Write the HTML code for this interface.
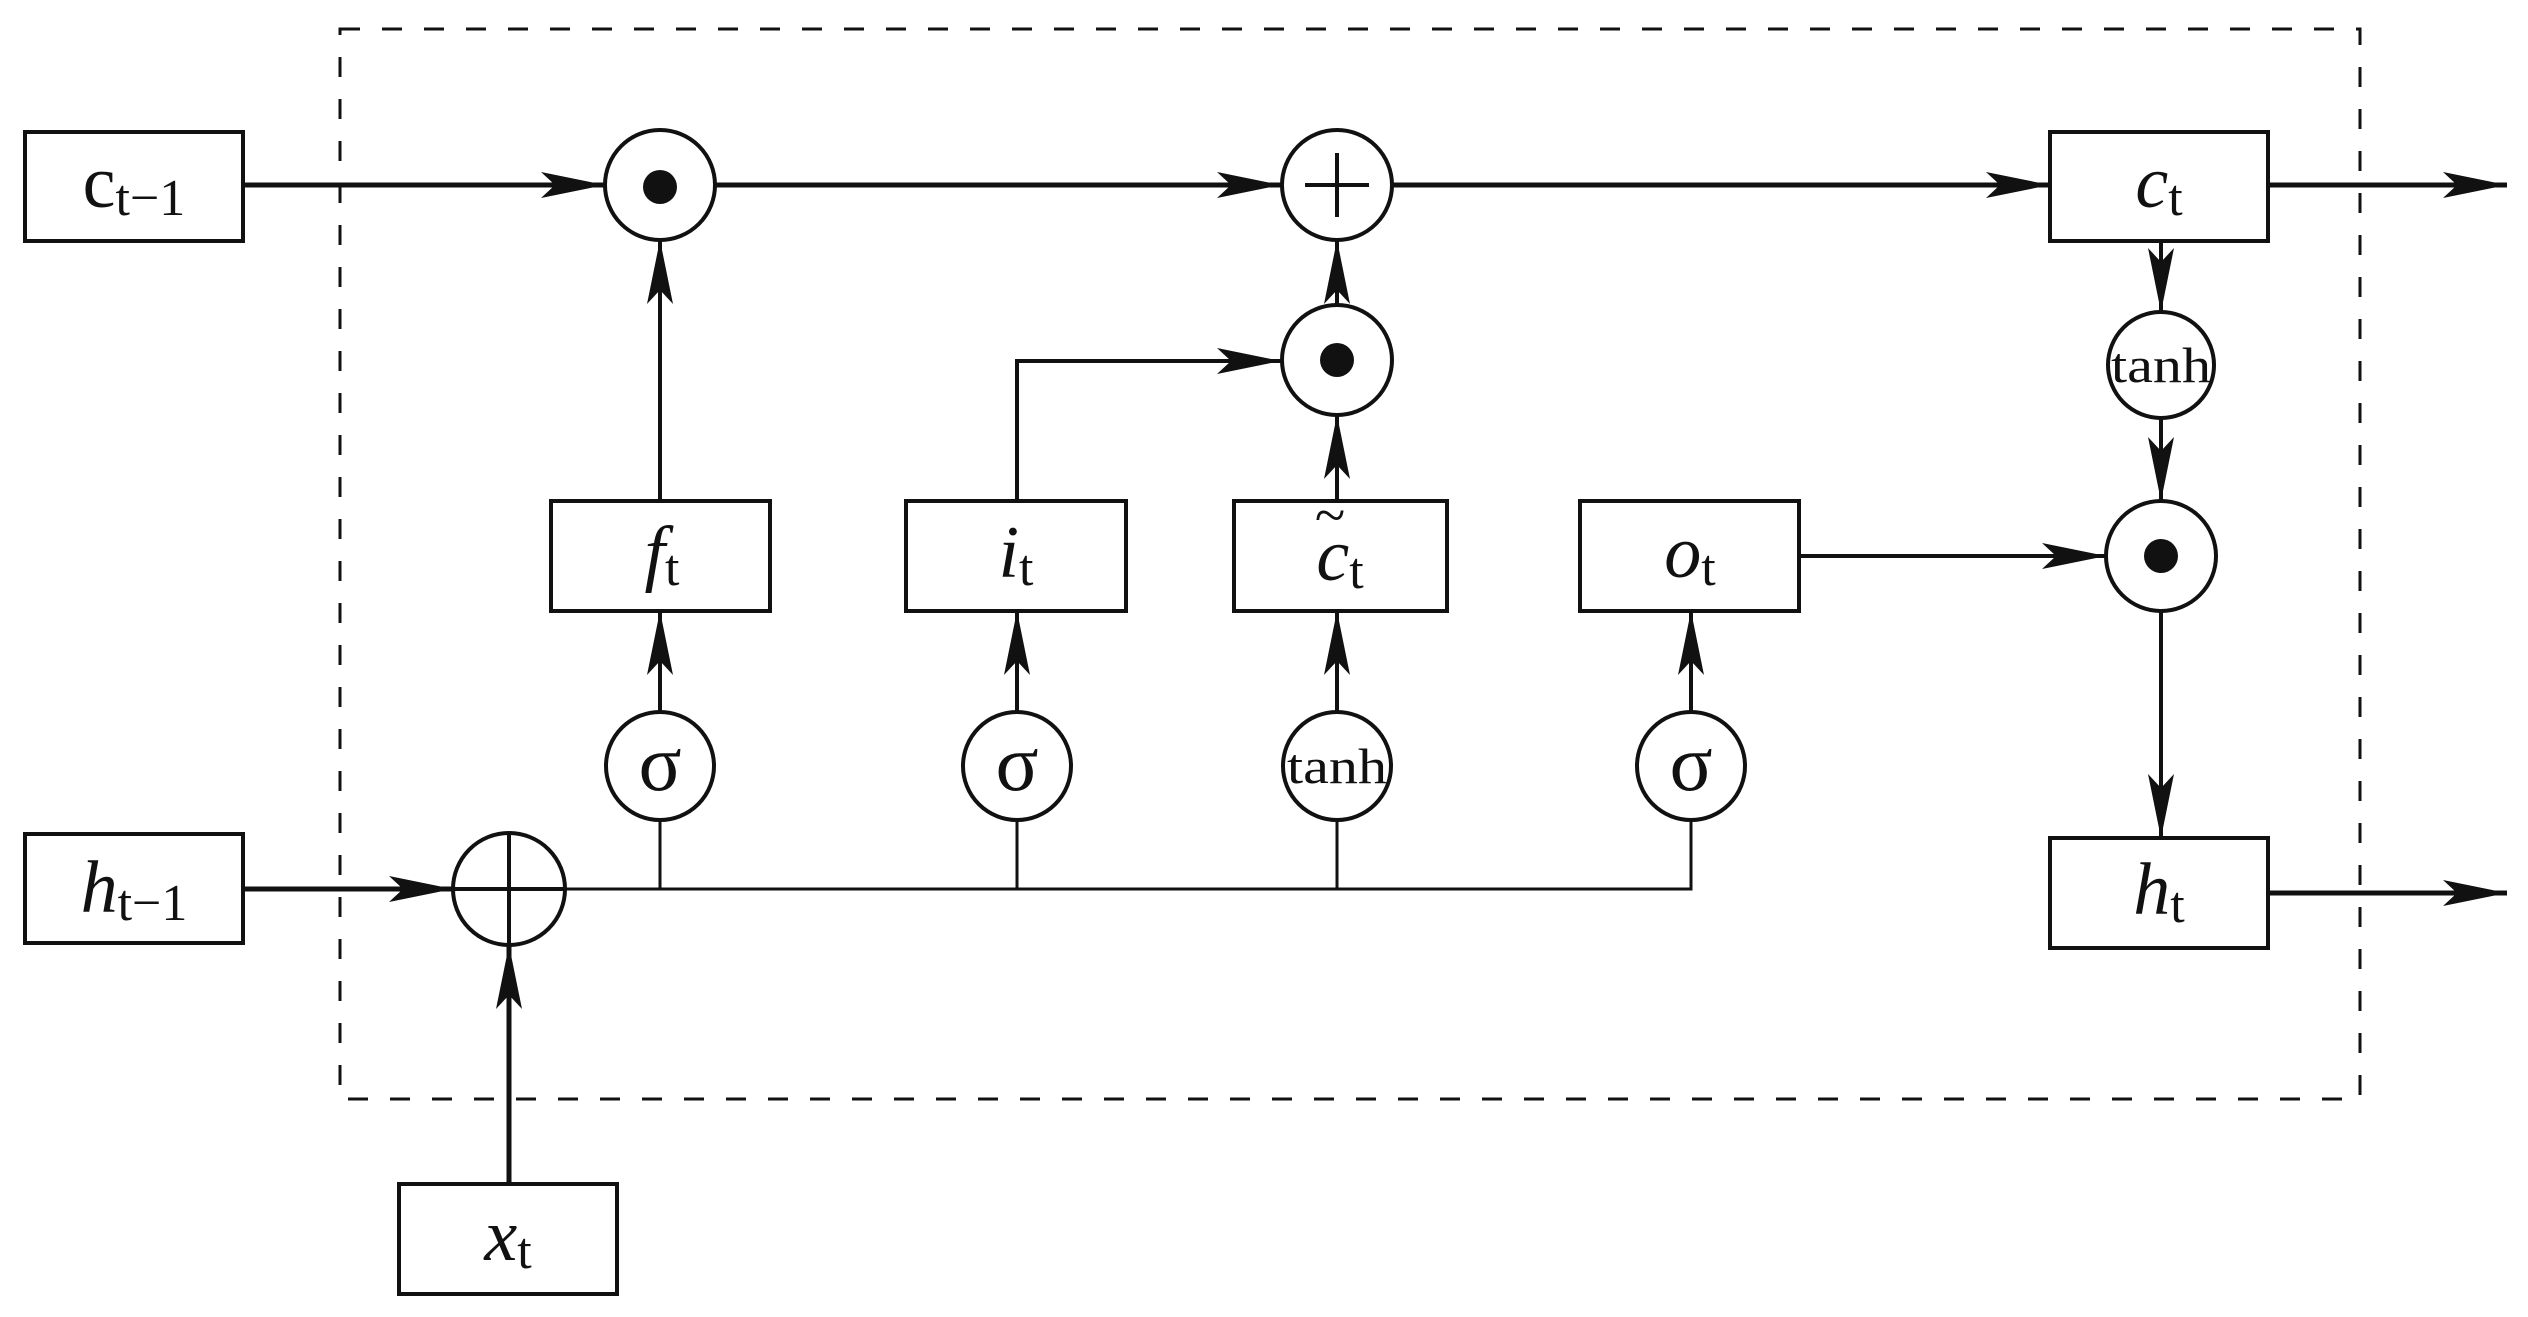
<!DOCTYPE html>
<html><head><meta charset="utf-8"><style>
html,body{margin:0;padding:0;background:#fff;width:2528px;height:1317px;overflow:hidden}
text{font-family:"Liberation Serif",serif;fill:#111}
</style></head><body>
<svg width="2528" height="1317" viewBox="0 0 2528 1317" xmlns="http://www.w3.org/2000/svg">
<defs>
<marker id="a" markerUnits="userSpaceOnUse" markerWidth="66" markerHeight="32" refX="64" refY="16" orient="auto">
<path d="M0,3 L64,16 L0,29 L14,16 Z" fill="#111"/>
</marker>
</defs>
<g stroke="#111" fill="none">
<rect x="340" y="29" width="2020" height="1070" stroke-width="3" stroke-dasharray="20,22"/>
<g stroke-width="4" fill="#fff">
<rect x="25" y="132" width="218" height="109"/>
<rect x="25" y="834" width="218" height="109"/>
<rect x="399" y="1184" width="218" height="110"/>
<rect x="551" y="501" width="219" height="110"/>
<rect x="906" y="501" width="220" height="110"/>
<rect x="1234" y="501" width="213" height="110"/>
<rect x="1580" y="501" width="219" height="110"/>
<rect x="2050" y="132" width="218" height="109"/>
<rect x="2050" y="838" width="218" height="110"/>
</g>
<g stroke-width="5">
<line x1="243" y1="185" x2="605" y2="185" marker-end="url(#a)"/>
<line x1="715" y1="185" x2="1281" y2="185" marker-end="url(#a)"/>
<line x1="1391" y1="185" x2="2050" y2="185" marker-end="url(#a)"/>
<line x1="2268" y1="185" x2="2507" y2="185" marker-end="url(#a)"/>
<line x1="2268" y1="893" x2="2507" y2="893" marker-end="url(#a)"/>
<line x1="243" y1="889" x2="453" y2="889" marker-end="url(#a)"/>
<line x1="509" y1="1184" x2="509" y2="945" marker-end="url(#a)"/>
</g>
<g stroke-width="4">
<line x1="660" y1="501" x2="660" y2="240" marker-end="url(#a)"/>
<polyline points="1017,501 1017,361 1281,361" marker-end="url(#a)"/>
<line x1="1337" y1="501" x2="1337" y2="415" marker-end="url(#a)"/>
<line x1="1337" y1="305" x2="1337" y2="240" marker-end="url(#a)"/>
<line x1="660" y1="711" x2="660" y2="611" marker-end="url(#a)"/>
<line x1="1017" y1="711" x2="1017" y2="611" marker-end="url(#a)"/>
<line x1="1337" y1="711" x2="1337" y2="611" marker-end="url(#a)"/>
<line x1="1691" y1="711" x2="1691" y2="611" marker-end="url(#a)"/>
<polyline points="565,889 1691,889 1691,821" stroke-width="3"/>
<line x1="660" y1="889" x2="660" y2="821" stroke-width="3"/>
<line x1="1017" y1="889" x2="1017" y2="821" stroke-width="3"/>
<line x1="1337" y1="889" x2="1337" y2="821" stroke-width="3"/>
<line x1="1799" y1="556" x2="2106" y2="556" marker-end="url(#a)"/>
<line x1="2161" y1="241" x2="2161" y2="312" marker-end="url(#a)"/>
<line x1="2161" y1="418" x2="2161" y2="501" marker-end="url(#a)"/>
<line x1="2161" y1="611" x2="2161" y2="838" marker-end="url(#a)"/>
</g>
<g stroke-width="4" fill="#fff">
<circle cx="660" cy="185" r="55"/>
<circle cx="1337" cy="185" r="55"/>
<circle cx="1337" cy="360" r="55"/>
<circle cx="2161" cy="556" r="55"/>
<circle cx="2161" cy="365" r="53"/>
<circle cx="660" cy="766" r="54"/>
<circle cx="1017" cy="766" r="54"/>
<circle cx="1337" cy="766" r="54"/>
<circle cx="1691" cy="766" r="54"/>
<circle cx="509" cy="889" r="56"/>
</g>
<g stroke-width="4">
<line x1="1305" y1="185" x2="1369" y2="185"/><line x1="1337" y1="153" x2="1337" y2="217"/>
<line x1="453" y1="889" x2="565" y2="889"/><line x1="509" y1="833" x2="509" y2="945"/>
</g>
</g>
<g fill="#111">
<circle cx="660" cy="187" r="17"/>
<circle cx="1337" cy="360" r="17"/>
<circle cx="2161" cy="556" r="17"/>
</g>
<g font-size="74" text-anchor="middle">
<text x="134" y="207">c<tspan font-size="52" dy="8">t−1</tspan></text>
<text x="134" y="912" font-style="italic">h<tspan font-size="52" dy="8" font-style="normal">t−1</tspan></text>
<text x="508" y="1260" font-style="italic">x<tspan font-size="52" dy="8" font-style="normal">t</tspan></text>
<text x="662" y="577" font-style="italic">f<tspan font-size="52" dy="8" font-style="normal">t</tspan></text>
<text x="1016" y="577" font-style="italic">i<tspan font-size="52" dy="8" font-style="normal">t</tspan></text>
<text x="1340" y="580" font-style="italic">c<tspan font-size="52" dy="8" font-style="normal">t</tspan></text>
<text x="1330" y="534" font-size="56">~</text>
<text x="1690" y="577" font-style="italic">o<tspan font-size="52" dy="8" font-style="normal">t</tspan></text>
<text x="2159" y="207" font-style="italic">c<tspan font-size="52" dy="8" font-style="normal">t</tspan></text>
<text x="2159" y="914" font-style="italic">h<tspan font-size="52" dy="8" font-style="normal">t</tspan></text>
<text x="660" y="790" font-size="80">σ</text>
<text x="1017" y="790" font-size="80">σ</text>
<text x="1691" y="790" font-size="80">σ</text>
<text x="1337" y="783" font-size="50" textLength="100" lengthAdjust="spacingAndGlyphs">tanh</text>
<text x="2161" y="382" font-size="50" textLength="100" lengthAdjust="spacingAndGlyphs">tanh</text>
</g>
</svg>
</body></html>
